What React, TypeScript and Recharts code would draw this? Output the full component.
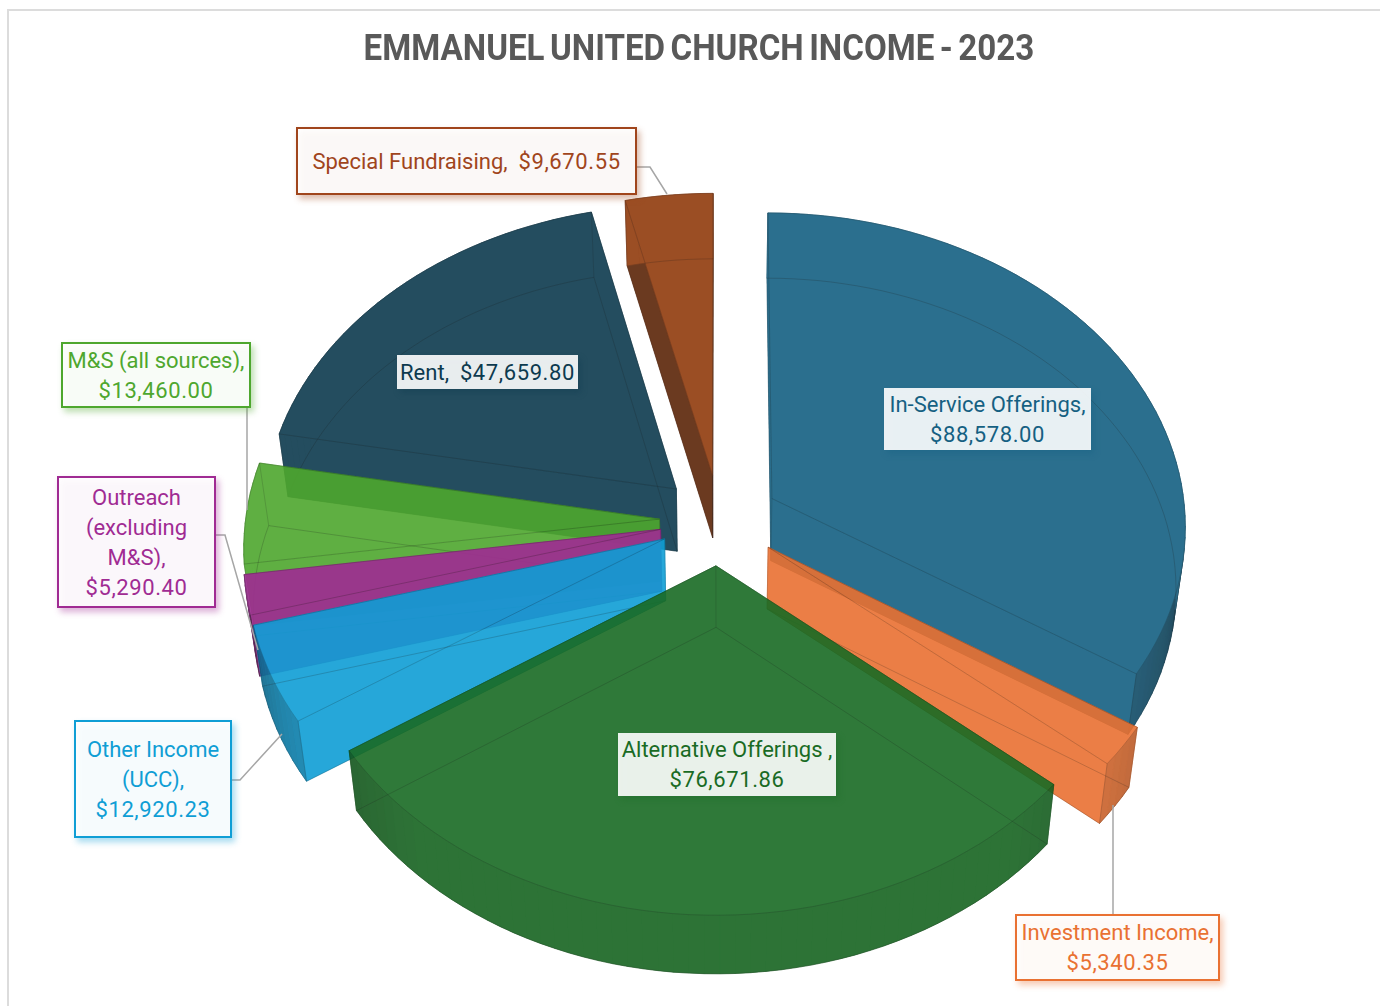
import { PieChart, Pie, Cell } from "recharts";

// counter-clockwise from the end of In-Service, which is also the paint order
const categories = [
  "In-Service Offerings",
  "Special Fundraising",
  "Rent",
  "M&S (all sources)",
  "Outreach (excluding M&S)",
  "Other Income (UCC)",
  "Alternative Offerings",
  "Investment Income",
];
const values = [88578.0, 9670.55, 47659.8, 13460.0, 5290.4, 12920.23, 76671.86, 5340.35];
const colors = ["#156082", "#913B0D", "#0D3A4E", "#4EA72E", "#A02B93", "#0F9ED5", "#196B24", "#E97132"];
const textColors = ["#156082", "#A0451C", "#0D3A4E", "#4EA72E", "#A02B93", "#0F9ED5", "#196B24", "#E97132"];
const labelRows = [
  ["In-Service Offerings,"],
  [],
  [],
  ["M&S (all sources),"],
  ["Outreach", "(excluding", "M&S),"],
  ["Other Income", "(UCC),"],
  ["Alternative Offerings ,"],
  ["Investment Income,"],
];
const inlinePrefix = ["", "Special Fundraising,  ", "Rent,  ", "", "", "", "", ""];

const labelBoxes = [
  { x: 884, y: 388, w: 207, h: 62, outlined: false, line: "" },
  { x: 297, y: 128, w: 339, h: 66, outlined: true, line: "636,167 650,167 667,194" },
  { x: 397, y: 355, w: 181, h: 34, outlined: false, line: "" },
  { x: 62, y: 343, w: 188, h: 64, outlined: true, line: "247,407 247,510" },
  { x: 58, y: 477, w: 157, h: 130, outlined: true, line: "215,535 225,535 258,650" },
  { x: 75, y: 721, w: 156, h: 116, outlined: true, line: "231,780 240,780 282,734" },
  { x: 618, y: 733, w: 218, h: 63, outlined: false, line: "" },
  { x: 1016, y: 915, w: 203, h: 65, outlined: true, line: "1113,915 1113,805" },
];

const FRONT_INDEX = 6; // Alternative Offerings sits over its neighbours
const total = values.reduce((a, b) => a + b, 0);
const startAngle = 90 - (360 * values[0]) / total;
const pieData = categories.map((name, i) => ({ name, value: values[i] }));

const EXPLODE = 60;
const TILT = 0.755;
const CAMERA = 5000;
const RAD = Math.PI / 180;
const FONT = "Roboto, sans-serif";

function money(v: number) {
  return "$" + v.toLocaleString("en-US", { minimumFractionDigits: 2, maximumFractionDigits: 2 });
}

function shadeColor(hex: string, f: number) {
  const n = parseInt(hex.slice(1), 16);
  const r = Math.round(((n >> 16) & 255) * f);
  const g = Math.round(((n >> 8) & 255) * f);
  const b = Math.round((n & 255) * f);
  return `rgb(${r},${g},${b})`;
}

// back facing walls stay flat, they only show through the top face
function sideShade(forward: number) {
  if (forward <= 0) return 1;
  return Math.min(1, 0.45 + 0.8 * forward);
}
function rimShade(forward: number) {
  if (forward <= 0.15) return 1;
  return Math.min(0.93, 0.45 + 0.65 * forward);
}

function Slice3D(props: any) {
  const { cx, cy, outerRadius: R, startAngle: a0, endAngle: a1, fill } = props;
  const mid = ((a0 + a1) / 2) * RAD;
  const ex = EXPLODE * Math.cos(mid);
  const ey = -EXPLODE * Math.sin(mid);

  const project = (gx: number, gy: number, bottom: boolean) => {
    const wx = gx + ex;
    const wy = gy + ey;
    const p = 1 / (1 - wy / CAMERA);
    const sx = wx * p;
    const sy = wy * TILT * p;
    if (!bottom) return [cx + sx, cy + sy];
    return [cx + sx * 0.98, cy + sy + 62 - (3 * wy) / R];
  };
  const rim = (deg: number, bottom: boolean) =>
    project(R * Math.cos(deg * RAD), -R * Math.sin(deg * RAD), bottom);

  const steps = Math.max(2, Math.ceil(Math.abs(a1 - a0) / 2));
  const angles: number[] = [];
  for (let i = 0; i <= steps; i++) angles.push(a0 + ((a1 - a0) * i) / steps);

  const path = (pts: number[][], close = true) =>
    "M" + pts.map((p) => p[0].toFixed(1) + "," + p[1].toFixed(1)).join("L") + (close ? "Z" : "");

  const topApex = project(0, 0, false);
  const botApex = project(0, 0, true);
  const topFace = [topApex, ...angles.map((a) => rim(a, false))];
  const botFace = [botApex, ...angles.map((a) => rim(a, true))];

  const sideWall = (deg: number, sign: number) => {
    const forward = sign * -Math.cos(deg * RAD);
    const col = shadeColor(fill, sideShade(forward));
    return (
      <path
        d={path([topApex, rim(deg, false), rim(deg, true), botApex])}
        fill={col}
        stroke={col}
        strokeWidth={0.5}
      />
    );
  };

  const rimWalls = angles.slice(1).map((a, i) => {
    const b = angles[i];
    const forward = -Math.sin(((a + b) / 2) * RAD);
    const col = shadeColor(fill, rimShade(forward));
    return (
      <path
        key={i}
        d={path([rim(b, false), rim(a, false), rim(a, true), rim(b, true)])}
        fill={col}
        stroke={col}
        strokeWidth={0.6}
      />
    );
  });

  return (
    <g opacity={0.9}>
      <path d={path(botFace)} fill={fill} />
      {sideWall(a1, 1)}
      {sideWall(a0, -1)}
      {rimWalls}
      <path d={path(topFace)} fill={fill} stroke={fill} strokeWidth={0.5} />
      <path d={path(botFace)} fill="none" stroke="#000" strokeOpacity={0.2} strokeWidth={1} />
      <path d={path(topFace)} fill="none" stroke="#000" strokeOpacity={0.2} strokeWidth={1} />
      <path d={path([rim(a0, false), rim(a0, true)], false)} stroke="#000" strokeOpacity={0.16} />
      <path d={path([rim(a1, false), rim(a1, true)], false)} stroke="#000" strokeOpacity={0.16} />
      <path d={path([topApex, botApex], false)} stroke="#000" strokeOpacity={0.16} />
    </g>
  );
}

const backShape = (props: any) => (props.index === FRONT_INDEX ? <g /> : <Slice3D {...props} />);
const frontShape = (props: any) => (props.index === FRONT_INDEX ? <Slice3D {...props} /> : <g />);

function renderLabel(props: any) {
  const i = props.index;
  const box = labelBoxes[i];
  const color = textColors[i];
  const val = money(values[i]);
  const rows = inlinePrefix[i] ? [inlinePrefix[i]] : [...labelRows[i], ""];
  const lineH = 30;
  const midY = box.y + box.h / 2;
  const firstY = midY - ((rows.length - 1) * lineH) / 2;
  return (
    <g key={i}>
      {box.line && <polyline points={box.line} fill="none" stroke="#a6a6a6" strokeWidth={1.5} />}
      <rect
        x={box.x}
        y={box.y}
        width={box.w}
        height={box.h}
        fill="#fff"
        fillOpacity={0.9}
        stroke={box.outlined ? color : "none"}
        strokeWidth={2}
        style={{ filter: `drop-shadow(3px 4px 3px ${color}66)` }}
      />
      {rows.map((row, r) => (
        <text
          key={r}
          x={box.x + box.w / 2}
          y={firstY + r * lineH}
          dy="0.36em"
          textAnchor="middle"
          fontFamily={FONT}
          fontSize={22}
          fill={color}
          style={{ whiteSpace: "pre" }}
        >
          {row}
          {r === rows.length - 1 && <tspan letterSpacing={0.6}>{val}</tspan>}
        </text>
      ))}
    </g>
  );
}

export default function App() {
  const common = {
    data: pieData,
    dataKey: "value",
    nameKey: "name",
    cx: 714.5,
    cy: 515,
    outerRadius: 414,
    startAngle,
    endAngle: startAngle + 360,
    paddingAngle: 0,
    stroke: "none",
    isAnimationActive: false,
  };
  return (
    <div style={{ position: "absolute", left: 0, top: 0, width: 1380, height: 1006, background: "#fff", overflow: "hidden" }}>
      <div
        style={{
          position: "absolute",
          left: 7,
          top: 9,
          width: 1400,
          height: 1100,
          border: "2px solid #dcdcdc",
        }}
      />
      <div
        style={{
          position: "absolute",
          left: 0,
          top: 26,
          width: 1398,
          textAlign: "center",
          fontFamily: FONT,
          fontWeight: 700,
          fontSize: 36,
          lineHeight: "44px",
          wordSpacing: -3,
          color: "#595959",
          transform: "scaleX(0.92)",
        }}
      >
        EMMANUEL UNITED CHURCH INCOME - 2023
      </div>
      <div style={{ position: "absolute", left: 0, top: 0 }}>
        <PieChart width={1380} height={1006}>
          <Pie {...common} shape={backShape} label={false} labelLine={false}>
            {categories.map((c, i) => (
              <Cell key={c} fill={colors[i]} />
            ))}
          </Pie>
          <Pie {...common} shape={frontShape} label={renderLabel} labelLine={false}>
            {categories.map((c, i) => (
              <Cell key={c} fill={colors[i]} />
            ))}
          </Pie>
        </PieChart>
      </div>
    </div>
  );
}
